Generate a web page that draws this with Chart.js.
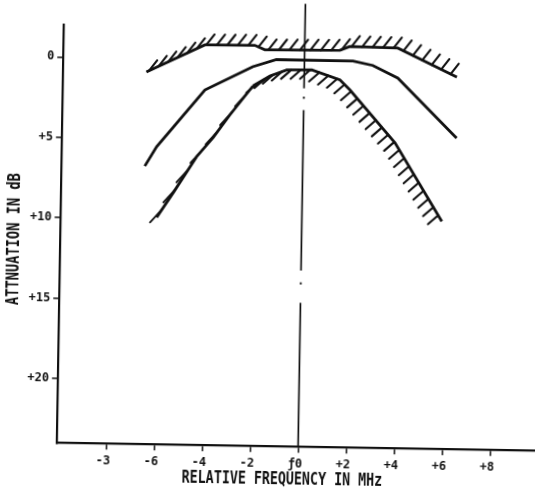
<!DOCTYPE html>
<html>
<head>
<meta charset="utf-8">
<title>Attenuation vs relative frequency</title>
<script src="https://cdn.jsdelivr.net/npm/chart.js@4.4.1/dist/chart.umd.min.js"></script>
<style>
  html, body { margin: 0; padding: 0; background: #fff; overflow: hidden; width: 535px; height: 494px; }
  /* the sheet sits a little askew, as on the printed page */
  #sheet { position: absolute; left: 0; top: 0; width: 545px; height: 494px;
           transform: rotate(0.95deg); transform-origin: 267.5px 247px; }
  canvas { display: block; }
</style>
</head>
<body>
<div id="sheet"><canvas id="chart" width="545" height="494" style="width:545px;height:494px"></canvas></div>
<script>
// Upper tolerance limit (hatched above)
const upperX  = [-6.58, -4.16, -2.08, -1.66, 1.47, 1.88, 3.88, 6.36];
const upperDb = [0.85, -0.90, -0.92, -0.65, -0.70, -0.95, -0.90, 0.85];

// Nominal response
const nominalX  = [-6.58, -6.10, -4.13, -2.15, -1.17, 2.02, 2.85, 3.90, 6.39];
const nominalDb = [6.70, 5.49, 1.91, 0.41, -0.06, -0.04, 0.21, 0.97, 4.64];

// Lower tolerance limit, rising flank (sparse hatching)
const lowerRiseX  = [-6.05, -5.34, -4.43, -3.75, -3.07, -2.13];
const lowerRiseDb = [9.88, 8.24, 6.07, 4.85, 3.43, 1.61];

// Lower tolerance limit, top and falling flank (dense hatching)
const lowerFallX  = [-2.13, -1.43, -0.73, 0.31, 1.49, 1.91, 3.83, 5.83];
const lowerFallDb = [1.61, 0.97, 0.58, 0.55, 1.14, 1.75, 5.00, 9.84];

// Centre-frequency marker f0 (null = break in the line)
const markerDb = [-3.55, 1.70, null, 2.22, 2.36, null, 3.05, 13.03, null, 13.76, 13.90, null, 15.04, 24];

// Axis ticks
const xTickValues = [-8, -6, -4, -2, 0, 2, 4, 6, 8];
const xTickLabels = ['-3', '-6', '-4', '-2', '\u01920', '+2', '+4', '+6', '+8'];
const yTickValues = [0, 5, 10, 15, 20];
const yTickLabels = ['0', '+5', '+10', '+15', '+20'];

const xTitle = 'RELATIVE FREQUENCY IN MHz';
const yTitle = 'ATTNUATION IN dB';

const ink = '#111';
const mono = '"DejaVu Sans Mono", "Liberation Mono", monospace';

const pts = (xs, ys) => xs.map((x, i) => ({ x, y: ys[i] }));

// Short oblique strokes laid along a dataset's polyline (tolerance hatching)
const hatchPlugin = {
  id: 'hatch',
  afterDatasetsDraw(chart) {
    const ctx = chart.ctx;
    chart.data.datasets.forEach((ds, i) => {
      if (!ds.hatch) return;
      const p = chart.getDatasetMeta(i).data;
      const h = ds.hatch;
      ctx.save();
      ctx.strokeStyle = ink;
      ctx.lineWidth = h.width;
      ctx.lineCap = 'round';
      ctx.beginPath();
      let carry = h.offset;
      for (let k = 0; k < p.length - 1; k++) {
        const a = p[k], b = p[k + 1];
        const len = Math.hypot(b.x - a.x, b.y - a.y);
        let d = carry;
        while (d <= len) {
          const t = d / len;
          const px = a.x + (b.x - a.x) * t, py = a.y + (b.y - a.y) * t;
          ctx.moveTo(px, py);
          ctx.lineTo(px + h.dx, py + h.dy);
          d += h.spacing;
        }
        carry = d - len;
      }
      ctx.stroke();
      ctx.restore();
    });
  }
};

// Typewriter-style condensed axis titles
const axisTitlePlugin = {
  id: 'axisTitles',
  afterDraw(chart) {
    const { ctx, chartArea, scales } = chart;
    ctx.save();
    ctx.fillStyle = ink;
    ctx.font = 'bold 18px ' + mono;
    ctx.textAlign = 'center';
    ctx.textBaseline = 'middle';
    ctx.save();
    ctx.translate(scales.x.getPixelForValue(0) - 15.6, chartArea.bottom + 33.5);
    ctx.scale(0.74, 1);
    ctx.fillText(xTitle, 0, 0);
    ctx.restore();
    ctx.save();
    ctx.translate(14, (chartArea.top + chartArea.bottom) / 2 + 6);
    ctx.rotate(-Math.PI / 2);
    ctx.scale(0.76, 1);
    ctx.fillText(yTitle, 0, 0);
    ctx.restore();
    ctx.restore();
  }
};

const lineStyle = { borderColor: ink, borderWidth: 2.8, pointRadius: 0, showLine: true, tension: 0, fill: false };

new Chart(document.getElementById('chart'), {
  type: 'scatter',
  data: {
    datasets: [
      { ...lineStyle, label: 'upper limit', data: pts(upperX, upperDb),
        hatch: { spacing: 10.5, dx: 8, dy: -10.5, offset: 3, width: 2.1 } },
      { ...lineStyle, label: 'nominal', data: pts(nominalX, nominalDb) },
      { ...lineStyle, label: 'lower limit rise', data: pts(lowerRiseX, lowerRiseDb),
        hatch: { spacing: 24, dx: -12, dy: 13.5, offset: 10, width: 1.8 } },
      { ...lineStyle, label: 'lower limit fall', data: pts(lowerFallX, lowerFallDb),
        hatch: { spacing: 9.5, dx: -10, dy: 9, offset: 4, width: 2.1 } },
      { ...lineStyle, label: 'f0', borderWidth: 1.7, clip: false,
        data: markerDb.map(y => ({ x: 0, y })) }
    ]
  },
  options: {
    responsive: false,
    animation: false,
    events: [],
    devicePixelRatio: 1,
    layout: { padding: { left: 0, top: 28.2, right: 3.6, bottom: 0 } },
    plugins: { legend: { display: false }, tooltip: { enabled: false } },
    scales: {
      x: {
        type: 'linear', min: -10.05, max: 10,
        afterBuildTicks: s => { s.ticks = xTickValues.map(value => ({ value })); },
        afterFit: s => { s.height = 47.7; },
        ticks: {
          autoSkip: false, maxRotation: 0, padding: 4, labelOffset: -3, color: ink,
          font: { family: mono, size: 12, weight: 'bold' },
          callback: (v, i) => xTickLabels[i]
        },
        grid: { display: true, drawOnChartArea: false, drawTicks: true, tickLength: 6, color: ink, lineWidth: 1.5 },
        border: { display: true, color: ink, width: 2.2 }
      },
      y: {
        type: 'linear', min: -2, max: 24, reverse: true,
        afterBuildTicks: s => { s.ticks = yTickValues.map(value => ({ value })); },
        afterFit: s => { s.width = 60.2; },
        ticks: {
          padding: 3, color: ink,
          font: { family: mono, size: 12, weight: 'bold' },
          callback: (v, i) => yTickLabels[i]
        },
        grid: { display: true, drawOnChartArea: false, drawTicks: true, tickLength: 6, color: ink, lineWidth: 1.5 },
        border: { display: true, color: ink, width: 2.2 }
      }
    }
  },
  plugins: [hatchPlugin, axisTitlePlugin]
});
</script>
</body>
</html>
